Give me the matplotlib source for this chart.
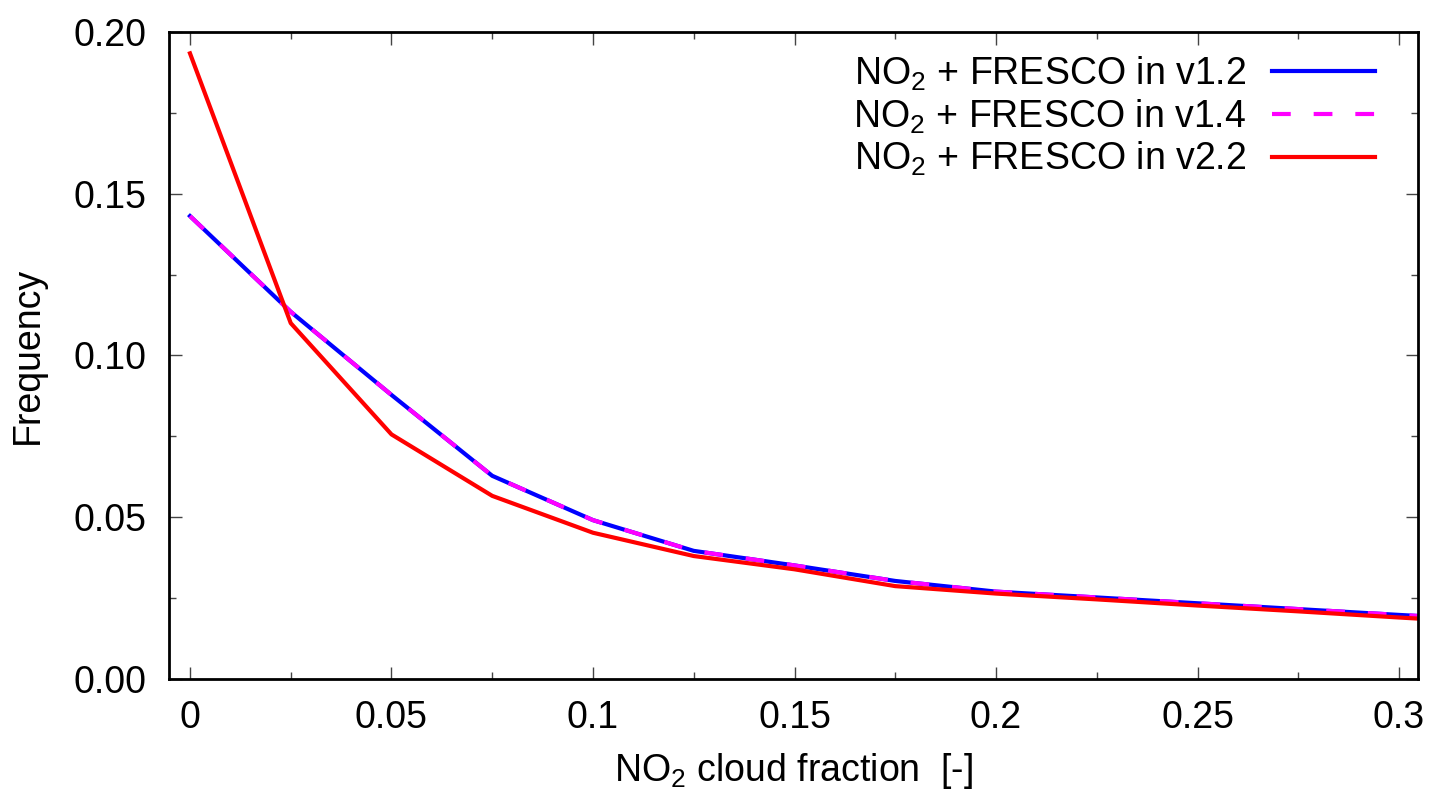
# Cloud fraction histogram: NO2 + FRESCO versions
import matplotlib
matplotlib.use("Agg")
import matplotlib.pyplot as plt
from matplotlib.ticker import MultipleLocator

plt.rcParams["font.family"] = ["Liberation Sans", "DejaVu Sans"]
plt.rcParams["mathtext.default"] = "regular"

# ------------------------------------------------------------
# Data
# ------------------------------------------------------------
cloud_fraction = [0.0, 0.025, 0.05, 0.075, 0.1, 0.125, 0.15, 0.175,
                  0.2, 0.225, 0.25, 0.275, 0.3, 0.325]
freq_v12 = [0.1431, 0.1135, 0.0878, 0.0628, 0.0491, 0.0396, 0.0351, 0.0303,
            0.0270, 0.0252, 0.0234, 0.0216, 0.0198, 0.0181]
freq_v14 = freq_v12
freq_v22 = [0.1934, 0.1100, 0.0756, 0.0566, 0.0452, 0.0380, 0.0339, 0.0287,
            0.0264, 0.0246, 0.0227, 0.0209, 0.0190, 0.0172]

labels = ["NO$_2$ + FRESCO in v1.2",
          "NO$_2$ + FRESCO in v1.4",
          "NO$_2$ + FRESCO in v2.2"]

# ------------------------------------------------------------
# Figure
# ------------------------------------------------------------
fig = plt.figure(figsize=(14.46, 8.08), dpi=100)
ax = fig.add_axes([0.1169, 0.1597, 0.8637, 0.8007])

ax.plot(cloud_fraction, freq_v12, color="#0000ff", lw=3.0, label=labels[0])
ax.plot(cloud_fraction, freq_v14, color="#ff00ff", lw=3.0,
        dashes=(4.5, 5.5), label=labels[1])
ax.plot(cloud_fraction, freq_v22, color="#ff0000", lw=3.0, label=labels[2])

ax.set_xlim(-0.0052, 0.3047)
ax.set_ylim(0.0, 0.2)

ax.xaxis.set_minor_locator(MultipleLocator(0.025))
ax.yaxis.set_minor_locator(MultipleLocator(0.025))
ax.set_xticks([0, 0.05, 0.1, 0.15, 0.2, 0.25, 0.3])
ax.set_xticklabels(["0", "0.05", "0.1", "0.15", "0.2", "0.25", "0.3"])
ax.set_yticks([0, 0.05, 0.1, 0.15, 0.2])
ax.set_yticklabels(["0.00", "0.05", "0.10", "0.15", "0.20"])

ax.tick_params(which="both", direction="in", top=True, right=True,
               color="#444444", labelsize=27, width=1.0)
ax.tick_params(which="major", length=9)
ax.tick_params(which="minor", length=5)
ax.tick_params(axis="x", which="major", pad=15)
ax.tick_params(axis="y", which="major", pad=16)

for s in ax.spines.values():
    s.set_linewidth(2.0)

ax.set_xlabel("NO$_2$ cloud fraction  [-]", fontsize=27, labelpad=11)
ax.set_ylabel("Frequency", fontsize=27, labelpad=20)

leg = ax.legend(loc="upper right", frameon=False, markerfirst=False,
                fontsize=27, handlelength=2.75, handletextpad=0.7,
                labelspacing=0.12, borderaxespad=0.2,
                bbox_to_anchor=(0.984, 1.0))
for t in leg.get_texts():
    t.set_ha("right")

fig.savefig("out.png", dpi=100)
